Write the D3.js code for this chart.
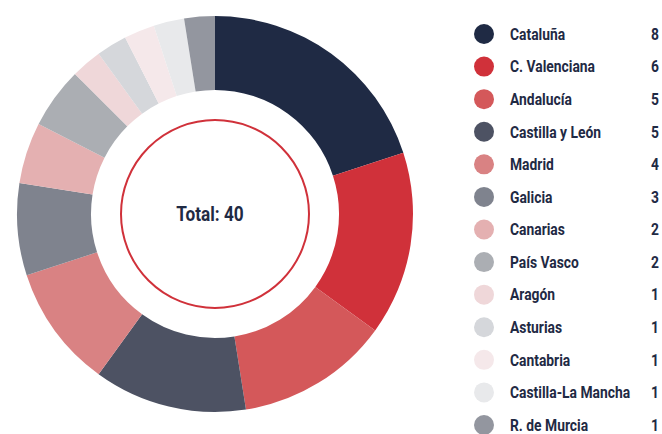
<!DOCTYPE html>
<html lang="es">
<head>
<meta charset="utf-8">
<script src="https://d3js.org/d3.v7.min.js"></script>
<style>
  body { margin: 0; background: #fff; }
  text { font-family: "Roboto", sans-serif; font-weight: bold; fill: #1f2a44; }
</style>
</head>
<body>
<div id="chart"></div>
<script>
var regions = ["Cataluña", "C. Valenciana", "Andalucía", "Castilla y León", "Madrid", "Galicia",
  "Canarias", "País Vasco", "Aragón", "Asturias", "Cantabria", "Castilla-La Mancha", "R. de Murcia"];
var counts = [8, 6, 5, 5, 4, 3, 2, 2, 1, 1, 1, 1, 1];
var colors = ["#1f2a44", "#d0313a", "#d4585a", "#4d5263", "#d98283", "#7f838e",
  "#e4b0b1", "#abaeb3", "#efd7d9", "#d5d7db", "#f5e8ea", "#e8e9eb", "#93969f"];

var w = 662, h = 434;
var cx = 215, cy = 214;
var outerR = 198, innerR = 124;
var squeeze = 0.84; // condensed look

var svg = d3.select("#chart").append("svg")
  .attr("width", w)
  .attr("height", h);

var data = regions.map(function(r, i) { return { name: r, value: counts[i], color: colors[i] }; });
var total = d3.sum(counts);

var pie = d3.pie().sort(null).value(function(d) { return d.value; });
var arc = d3.arc().innerRadius(innerR).outerRadius(outerR);

var g = svg.append("g").attr("transform", "translate(" + cx + "," + cy + ")");

g.selectAll("path")
  .data(pie(data))
  .enter().append("path")
  .attr("d", arc)
  .attr("fill", function(d) { return d.data.color; });

g.append("circle")
  .attr("r", 94)
  .attr("fill", "none")
  .attr("stroke", "#d0313a")
  .attr("stroke-width", 2);

g.append("text")
  .attr("transform", "translate(-5,0) scale(0.82,1)")
  .attr("dy", "0.35em")
  .attr("text-anchor", "middle")
  .style("font-size", "21px")
  .text("Total: " + total);

// legend
var rowY = d3.scalePoint().domain(regions).range([34, 425]);

var legend = svg.selectAll("g.legend")
  .data(data)
  .enter().append("g")
  .attr("class", "legend")
  .attr("transform", function(d) { return "translate(0," + rowY(d.name) + ")"; });

legend.append("circle")
  .attr("cx", 484)
  .attr("r", 10)
  .attr("fill", function(d) { return d.color; });

legend.append("text")
  .attr("transform", "translate(510,0) scale(" + squeeze + ",1)")
  .attr("dy", "0.35em")
  .style("font-size", "16.5px")
  .text(function(d) { return d.name; });

legend.append("text")
  .attr("transform", "translate(659,0) scale(" + squeeze + ",1)")
  .attr("dy", "0.35em")
  .attr("text-anchor", "end")
  .style("font-size", "16.5px")
  .text(function(d) { return d.value; });
</script>
</body>
</html>
